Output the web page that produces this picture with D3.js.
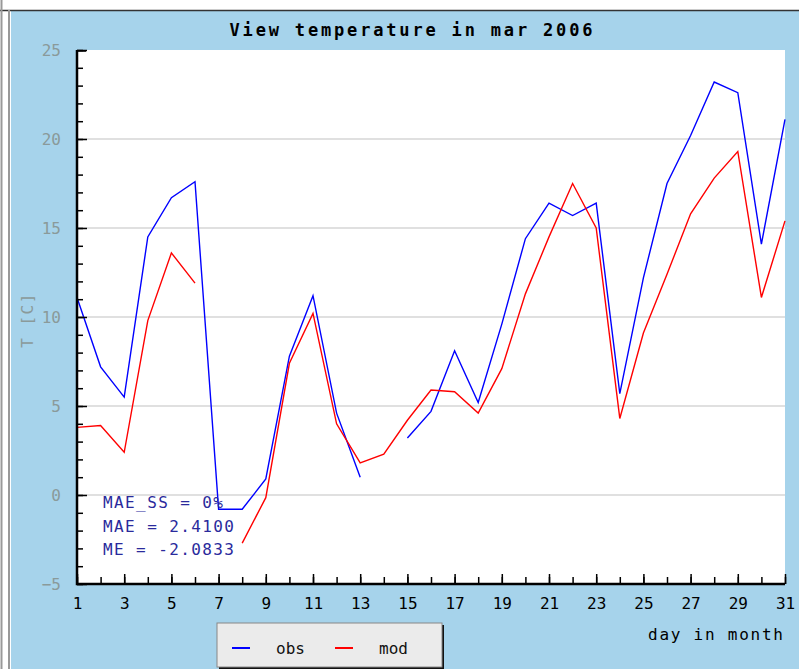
<!DOCTYPE html>
<html>
<head>
<meta charset="utf-8">
<script src="https://cdn.jsdelivr.net/npm/d3@7"></script>
<style>
  body { margin: 0; background: #fff; }
  svg { display: block; }
  text { font-family: "DejaVu Sans Mono", "Liberation Mono", monospace; }
</style>
</head>
<body>
<div id="chart"></div>
<script>
// data
const days = [1,2,3,4,5,6,7,8,9,10,11,12,13,14,15,16,17,18,19,20,21,22,23,24,25,26,27,28,29,30,31];
const obs = [11.1, 7.2, 5.5, 14.5, 16.7, 17.6, -0.8, -0.8, 0.9, 7.8, 11.2, 4.6, 1.0, null, 3.2, 4.7,
             8.1, 5.2, 9.6, 14.4, 16.4, 15.7, 16.4, 5.7, 12.2, 17.5, 20.2, 23.2, 22.6, 14.1, 21.1];
const mod = [3.8, 3.9, 2.4, 9.8, 13.6, 11.9, null, -2.7, -0.15, 7.4, 10.2, 4.0, 1.8, 2.3, 4.2, 5.9,
             5.8, 4.6, 7.1, 11.3, 14.5, 17.5, 15.0, 4.3, 9.1, 12.4, 15.8, 17.8, 19.3, 11.1, 15.4];
const xTickLabels = [1,3,5,7,9,11,13,15,17,19,21,23,25,27,29,31];
const yTickLabels = [-5,0,5,10,15,20,25];
const yMinor = [-5,-4,-3,-2,-1,0,1,2,3,4,5,6,7,8,9,10,11,12,13,14,15,16,17,18,19,20,21,22,23,24,25];
const gridValues = [0,5,10,15,20];
const stats = ["MAE_SS = 0%", "MAE = 2.4100", "ME = -2.0833"];

const width = 799, height = 669;
const plot = {left: 77, right: 785, top: 50, bottom: 584};

const svg = d3.select("#chart").append("svg")
    .attr("width", width)
    .attr("height", height);

// frame + blue panel
svg.append("rect").attr("x", 0).attr("y", 0).attr("width", width).attr("height", height).attr("fill", "#fff");
svg.append("rect").attr("x", 11).attr("y", 11).attr("width", width - 11).attr("height", height - 11).attr("fill", "#a6d3eb");
svg.append("line").attr("x1", 0).attr("x2", width).attr("y1", 10.5).attr("y2", 10.5).attr("stroke", "#333").attr("stroke-width", 1.5);
svg.append("line").attr("x1", 1.5).attr("x2", 1.5).attr("y1", 0).attr("y2", height).attr("stroke", "#999").attr("stroke-width", 2);
svg.append("line").attr("x1", 9).attr("x2", 9).attr("y1", 10).attr("y2", height).attr("stroke", "#999").attr("stroke-width", 2);

// scales
const x = d3.scaleLinear().domain([1, 31]).range([plot.left, plot.right]);
const y = d3.scaleLinear().domain([-5, 25]).range([plot.bottom, plot.top]);

// plot background
svg.append("rect")
    .attr("x", plot.left).attr("y", plot.top)
    .attr("width", plot.right - plot.left).attr("height", plot.bottom - plot.top)
    .attr("fill", "#fff");

// gridlines
svg.append("g")
    .selectAll("line")
    .data(gridValues)
    .join("line")
        .attr("x1", plot.left).attr("x2", plot.right)
        .attr("y1", d => y(d)).attr("y2", d => y(d))
        .attr("stroke", "#d6d6d6")
        .attr("stroke-width", 1.5);

// series
const line = d3.line()
    .defined(d => d[1] != null)
    .x(d => x(d[0]))
    .y(d => y(d[1]));

const series = [
    {name: "obs", color: "#0000ff", values: obs},
    {name: "mod", color: "#ff0000", values: mod}
];

svg.append("g")
    .selectAll("path")
    .data(series)
    .join("path")
        .attr("fill", "none")
        .attr("stroke", d => d.color)
        .attr("stroke-width", 1.4)
        .attr("d", d => line(days.map((day, i) => [day, d.values[i]])));

// stats text
svg.append("g")
    .selectAll("text")
    .data(stats)
    .join("text")
        .attr("x", 103)
        .attr("y", (d, i) => 508 + i * 23.5)
        .attr("fill", "#2a2a9c")
        .attr("font-size", 16)
        .attr("letter-spacing", 1.4)
        .text(d => d);

// y axis: minor ticks inside, then major with labels
const yAxisG = svg.append("g").attr("transform", `translate(${plot.left},0)`);
yAxisG.append("g")
    .call(d3.axisLeft(y).tickValues(yMinor).tickSize(-6).tickFormat(""))
    .call(g => g.select(".domain").remove());
yAxisG.append("g")
    .call(d3.axisLeft(y).tickValues(yTickLabels).tickSize(-10).tickPadding(16).tickFormat(d3.format("d")))
    .call(g => g.select(".domain").remove())
    .call(g => g.selectAll("text").attr("fill", "#8a9a9a").attr("font-size", 16)
        .attr("font-family", "DejaVu Sans Mono").text(d => String(d).replace("-", "\u2212")));
yAxisG.selectAll(".tick line").attr("stroke", "#000").attr("stroke-width", 1.5);

// x axis
const xAxisG = svg.append("g").attr("transform", `translate(0,${plot.bottom})`);
xAxisG.append("g")
    .call(d3.axisBottom(x).tickValues(days).tickSize(-7).tickFormat(""))
    .call(g => g.select(".domain").remove());
xAxisG.append("g")
    .call(d3.axisBottom(x).tickValues(xTickLabels).tickSize(-10).tickPadding(14))
    .call(g => g.select(".domain").remove())
    .call(g => g.selectAll("text").attr("fill", "#000").attr("font-size", 16)
        .attr("font-family", "DejaVu Sans Mono"));
xAxisG.selectAll(".tick line").attr("stroke", "#000").attr("stroke-width", 1.5);

// axis lines
svg.append("path")
    .attr("d", `M${plot.left},${plot.top}V${plot.bottom}H${plot.right}`)
    .attr("fill", "none")
    .attr("stroke", "#000")
    .attr("stroke-width", 2.5);
svg.append("line")
    .attr("x1", plot.left).attr("x2", plot.left + 9)
    .attr("y1", plot.top + 1).attr("y2", plot.top + 1)
    .attr("stroke", "#000").attr("stroke-width", 1.5);

// title
svg.append("text")
    .attr("x", 411).attr("y", 36)
    .attr("text-anchor", "middle")
    .attr("font-size", 17)
    .attr("font-weight", "bold")
    .attr("textLength", 363)
    .attr("lengthAdjust", "spacing")
    .text("View temperature in mar 2006");

// axis titles
svg.append("text")
    .attr("transform", "translate(33,320) rotate(-90)")
    .attr("text-anchor", "middle")
    .attr("fill", "#8a9a9a")
    .attr("font-size", 16)
    .attr("letter-spacing", 1.5)
    .text("T [C]");

svg.append("text")
    .attr("x", 783).attr("y", 640)
    .attr("text-anchor", "end")
    .attr("font-size", 16)
    .attr("textLength", 135)
    .attr("lengthAdjust", "spacing")
    .text("day in month");

// legend
const legend = svg.append("g");
legend.append("rect")
    .attr("x", 219).attr("y", 625)
    .attr("width", 225).attr("height", 44)
    .attr("fill", "#111");
legend.append("rect")
    .attr("x", 217).attr("y", 623)
    .attr("width", 225).attr("height", 44)
    .attr("fill", "#ebebeb")
    .attr("stroke", "#888")
    .attr("stroke-width", 1);

const legendItems = legend.selectAll("g")
    .data(series)
    .join("g")
        .attr("transform", (d, i) => `translate(${232 + i * 103},648)`);
legendItems.append("line")
    .attr("x1", 0).attr("x2", 18)
    .attr("stroke", d => d.color)
    .attr("stroke-width", 2);
legendItems.append("text")
    .attr("x", 44).attr("y", 6)
    .attr("font-size", 16)
    .attr("fill", "#111")
    .text(d => d.name);
</script>
</body>
</html>
